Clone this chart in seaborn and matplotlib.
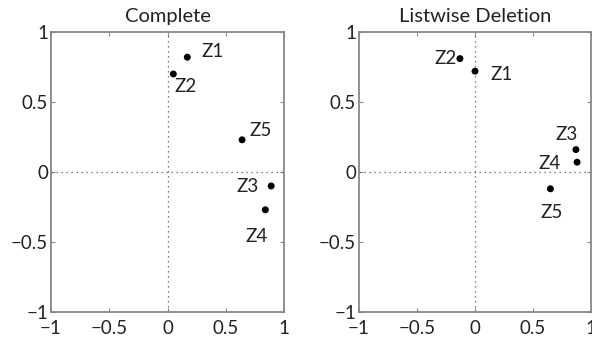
import seaborn as sb
import matplotlib.pyplot as plt
import pandas as pd

# loadings
labels = ["Z1", "Z2", "Z3", "Z4", "Z5"]
complete_x = [0.17, 0.05, 0.89, 0.84, 0.64]
complete_y = [0.82, 0.70, -0.10, -0.27, 0.23]
listwise_x = [0.00, -0.13, 0.87, 0.88, 0.65]
listwise_y = [0.72, 0.81, 0.16, 0.07, -0.12]

# label offsets in points (text placement only)
complete_off = {"Z1": (10, 0), "Z2": (1, -13), "Z3": (-25, -4), "Z4": (-14, -23), "Z5": (5, 3)}
listwise_off = {"Z2": (-18, -4), "Z1": (11, -6), "Z3": (-15, 7), "Z4": (-28, -5), "Z5": (-7, -21)}

sb.set_style("white")
plt.rcParams['font.family'] = ['Lato', 'DejaVu Sans']

fig = plt.figure(figsize=(5.92, 3.46), dpi=100)
ax1 = fig.add_axes([51 / 592, 34 / 346, 233 / 592, 280 / 346])
ax2 = fig.add_axes([359 / 592, 34 / 346, 232 / 592, 280 / 346])

panels = [
    (ax1, "Complete", complete_x, complete_y, complete_off),
    (ax2, "Listwise Deletion", listwise_x, listwise_y, listwise_off),
]

for ax, title, xs, ys, offs in panels:
    df = pd.DataFrame({"x": xs, "y": ys, "label": labels})
    ax.axhline(0, color="#555555", lw=0.9, ls=(0, (1, 3)), zorder=1)
    ax.axvline(0, color="#555555", lw=0.9, ls=(0, (1, 3)), zorder=1)
    sb.scatterplot(data=df, x="x", y="y", ax=ax, color="black", s=25,
                   edgecolor="none", zorder=3)
    for _, r in df.iterrows():
        ax.annotate(r["label"], (r["x"], r["y"]), xytext=offs[r["label"]],
                    textcoords="offset points", fontsize=13.5, color="#222222")
    ax.set_xlim(-1, 1)
    ax.set_ylim(-1, 1)
    ax.set_xticks([-1, -0.5, 0, 0.5, 1])
    ax.set_yticks([-1, -0.5, 0, 0.5, 1])
    ax.set_xticklabels(["\u22121", "\u22120.5", "0", "0.5", "1"])
    ax.set_yticklabels(["\u22121", "\u22120.5", "0", "0.5", "1"])
    ax.tick_params(direction="in", length=3, width=0.8, color="#888888",
                   labelsize=13.5, labelcolor="#222222", pad=2,
                   top=True, right=True, bottom=True, left=True)
    ax.tick_params(axis="x", pad=6)
    for sp in ax.spines.values():
        sp.set_visible(True)
        sp.set_color("#888888")
        sp.set_linewidth(1.3)
    ax.set_xlabel("")
    ax.set_ylabel("")
    ax.set_title(title, fontsize=14.5, color="#222222", pad=7)

plt.savefig("out.png", dpi=100)
plt.close()
